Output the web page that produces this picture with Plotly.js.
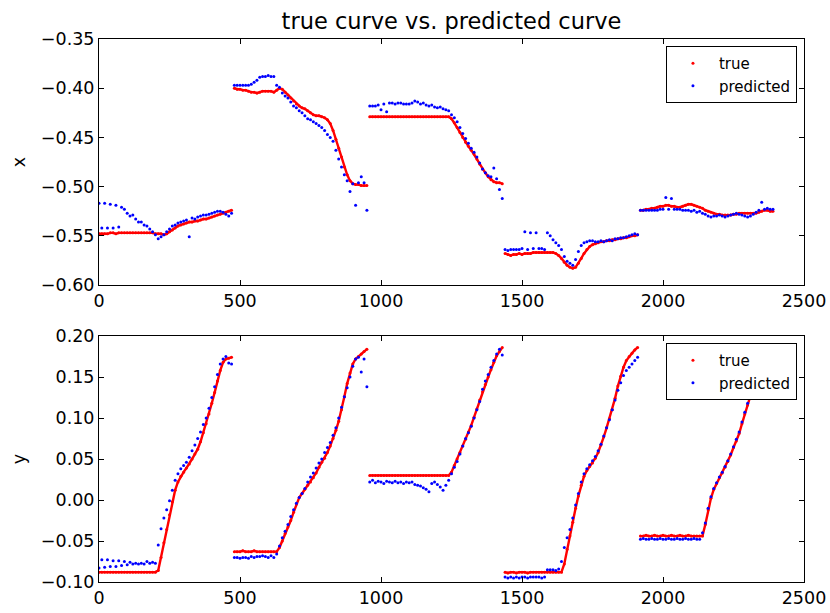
<!DOCTYPE html>
<html>
<head>
<meta charset="utf-8">
<script src="https://cdn.plot.ly/plotly-3.0.1.min.js"></script>
<style>html,body{margin:0;padding:0;background:#fff;}#chart{width:830px;height:613px;}</style>
</head>
<body>
<div id="chart"></div>
<script>
// sample spacing of the values below (index units) and points per segment
const sampleStep = 10;
const segmentLength = 48;

// x component (top panel)
const xTrue = [
 -0.548,-0.548,-0.548,-0.548,-0.547,-0.547,-0.548,-0.547,-0.547,-0.547,-0.547,-0.547,-0.547,-0.547,-0.547,-0.547,-0.547,-0.547,-0.547,-0.547,-0.548,-0.548,-0.548,-0.549,-0.548,-0.546,-0.544,-0.542,-0.540,-0.539,-0.538,-0.537,-0.536,-0.536,-0.535,-0.535,-0.534,-0.533,-0.533,-0.532,-0.531,-0.530,-0.529,-0.528,-0.527,-0.526,-0.525,-0.524,
 -0.400,-0.401,-0.401,-0.402,-0.402,-0.403,-0.404,-0.404,-0.405,-0.404,-0.403,-0.403,-0.403,-0.403,-0.404,-0.402,-0.400,-0.401,-0.404,-0.407,-0.410,-0.413,-0.416,-0.418,-0.420,-0.421,-0.423,-0.425,-0.427,-0.428,-0.428,-0.429,-0.430,-0.432,-0.436,-0.443,-0.452,-0.461,-0.470,-0.480,-0.488,-0.494,-0.497,-0.498,-0.498,-0.499,-0.499,-0.499,
 -0.429,-0.429,-0.429,-0.429,-0.429,-0.429,-0.429,-0.429,-0.429,-0.429,-0.429,-0.429,-0.429,-0.429,-0.429,-0.429,-0.429,-0.429,-0.429,-0.429,-0.429,-0.429,-0.429,-0.429,-0.429,-0.429,-0.429,-0.429,-0.429,-0.431,-0.435,-0.440,-0.445,-0.450,-0.455,-0.459,-0.463,-0.467,-0.472,-0.477,-0.482,-0.486,-0.490,-0.493,-0.495,-0.496,-0.496,-0.497,
 -0.568,-0.569,-0.570,-0.569,-0.569,-0.568,-0.569,-0.568,-0.568,-0.568,-0.567,-0.567,-0.567,-0.567,-0.567,-0.567,-0.567,-0.567,-0.568,-0.570,-0.573,-0.577,-0.580,-0.582,-0.583,-0.582,-0.578,-0.573,-0.568,-0.564,-0.561,-0.559,-0.558,-0.557,-0.556,-0.556,-0.555,-0.555,-0.554,-0.554,-0.553,-0.553,-0.552,-0.552,-0.551,-0.550,-0.550,-0.549,
 -0.524,-0.524,-0.523,-0.523,-0.522,-0.522,-0.521,-0.520,-0.520,-0.519,-0.519,-0.520,-0.520,-0.521,-0.521,-0.520,-0.519,-0.518,-0.518,-0.519,-0.520,-0.521,-0.522,-0.524,-0.525,-0.526,-0.527,-0.528,-0.528,-0.529,-0.529,-0.529,-0.529,-0.528,-0.528,-0.527,-0.527,-0.527,-0.527,-0.527,-0.527,-0.527,-0.526,-0.525,-0.524,-0.524,-0.525,-0.525
];
const xPredicted = [
 -0.517,-0.542,-0.517,-0.542,-0.518,-0.542,-0.519,-0.541,-0.521,-0.523,-0.527,-0.530,-0.529,-0.533,-0.536,-0.536,-0.539,-0.540,-0.543,-0.546,-0.549,-0.553,-0.551,-0.549,-0.546,-0.543,-0.540,-0.539,-0.537,-0.536,-0.535,-0.534,-0.551,-0.532,-0.533,-0.531,-0.530,-0.529,-0.529,-0.528,-0.527,-0.526,-0.525,-0.525,-0.526,-0.528,-0.530,-0.527,
 -0.397,-0.397,-0.397,-0.397,-0.397,-0.397,-0.396,-0.394,-0.392,-0.389,-0.388,-0.388,-0.387,-0.388,-0.388,-0.397,-0.399,-0.405,-0.408,-0.410,-0.414,-0.418,-0.420,-0.423,-0.425,-0.428,-0.431,-0.432,-0.434,-0.436,-0.438,-0.440,-0.443,-0.447,-0.450,-0.454,-0.463,-0.472,-0.480,-0.488,-0.494,-0.505,-0.497,-0.519,-0.496,-0.490,-0.496,-0.524,
 -0.418,-0.418,-0.418,-0.417,-0.422,-0.416,-0.424,-0.415,-0.415,-0.416,-0.415,-0.415,-0.416,-0.416,-0.416,-0.415,-0.413,-0.414,-0.416,-0.415,-0.417,-0.418,-0.417,-0.419,-0.420,-0.419,-0.421,-0.422,-0.423,-0.427,-0.430,-0.434,-0.440,-0.446,-0.451,-0.456,-0.461,-0.465,-0.470,-0.476,-0.482,-0.486,-0.489,-0.490,-0.481,-0.492,-0.503,-0.512,
 -0.564,-0.565,-0.564,-0.564,-0.564,-0.564,-0.563,-0.546,-0.564,-0.547,-0.563,-0.547,-0.563,-0.563,-0.564,-0.547,-0.550,-0.554,-0.557,-0.560,-0.564,-0.571,-0.576,-0.578,-0.580,-0.574,-0.566,-0.560,-0.557,-0.556,-0.555,-0.555,-0.556,-0.556,-0.555,-0.556,-0.555,-0.554,-0.555,-0.553,-0.553,-0.552,-0.552,-0.551,-0.550,-0.549,-0.548,-0.549,
 -0.524,-0.524,-0.524,-0.524,-0.524,-0.524,-0.524,-0.523,-0.523,-0.511,-0.523,-0.512,-0.523,-0.523,-0.523,-0.524,-0.524,-0.524,-0.525,-0.524,-0.526,-0.525,-0.527,-0.528,-0.530,-0.531,-0.530,-0.530,-0.529,-0.530,-0.531,-0.530,-0.529,-0.528,-0.527,-0.528,-0.529,-0.530,-0.531,-0.530,-0.528,-0.526,-0.524,-0.516,-0.523,-0.522,-0.523,-0.523
];

// y component (bottom panel)
const yTrue = [
 -0.088,-0.088,-0.088,-0.088,-0.088,-0.088,-0.088,-0.088,-0.088,-0.088,-0.088,-0.088,-0.088,-0.088,-0.088,-0.088,-0.088,-0.088,-0.088,-0.088,-0.088,-0.086,-0.070,-0.052,-0.036,-0.018,-0.002,0.012,0.022,0.029,0.034,0.039,0.044,0.050,0.056,0.062,0.071,0.082,0.093,0.105,0.118,0.131,0.145,0.158,0.168,0.172,0.173,0.174,
 -0.063,-0.063,-0.063,-0.062,-0.063,-0.063,-0.063,-0.062,-0.063,-0.063,-0.063,-0.063,-0.063,-0.063,-0.063,-0.063,-0.058,-0.050,-0.041,-0.033,-0.025,-0.015,-0.005,0.003,0.008,0.013,0.018,0.022,0.027,0.033,0.040,0.046,0.051,0.058,0.066,0.075,0.085,0.096,0.110,0.126,0.142,0.155,0.166,0.172,0.175,0.178,0.181,0.184,
 0.030,0.030,0.030,0.030,0.030,0.030,0.030,0.030,0.030,0.030,0.030,0.030,0.030,0.030,0.030,0.030,0.030,0.030,0.030,0.030,0.030,0.030,0.030,0.030,0.030,0.030,0.030,0.030,0.030,0.034,0.042,0.050,0.058,0.066,0.074,0.083,0.091,0.101,0.111,0.122,0.132,0.141,0.150,0.159,0.168,0.176,0.181,0.186,
 -0.088,-0.089,-0.088,-0.088,-0.089,-0.088,-0.088,-0.088,-0.089,-0.088,-0.088,-0.088,-0.088,-0.088,-0.088,-0.088,-0.088,-0.088,-0.088,-0.088,-0.088,-0.078,-0.060,-0.044,-0.027,-0.010,0.005,0.018,0.029,0.036,0.041,0.045,0.051,0.058,0.067,0.077,0.088,0.099,0.110,0.124,0.139,0.151,0.162,0.170,0.175,0.179,0.183,0.186,
 -0.044,-0.044,-0.043,-0.044,-0.044,-0.043,-0.044,-0.044,-0.043,-0.044,-0.044,-0.043,-0.044,-0.044,-0.043,-0.044,-0.044,-0.043,-0.044,-0.044,-0.044,-0.044,-0.044,-0.030,-0.012,0.002,0.013,0.020,0.027,0.033,0.040,0.047,0.055,0.064,0.072,0.081,0.093,0.105,0.116,0.127,0.136,0.146,0.155,0.163,0.170,0.176,0.181,0.185
];
const yPredicted = [
 -0.083,-0.073,-0.082,-0.073,-0.081,-0.074,-0.081,-0.074,-0.080,-0.075,-0.079,-0.076,-0.078,-0.077,-0.078,-0.077,-0.078,-0.075,-0.077,-0.076,-0.077,-0.055,-0.035,-0.022,-0.012,-0.001,0.012,0.024,0.032,0.038,0.042,0.046,0.052,0.060,0.067,0.075,0.083,0.092,0.100,0.112,0.125,0.138,0.153,0.166,0.172,0.175,0.167,0.166,
 -0.070,-0.070,-0.071,-0.070,-0.070,-0.071,-0.069,-0.070,-0.069,-0.069,-0.068,-0.069,-0.070,-0.068,-0.070,-0.066,-0.056,-0.046,-0.038,-0.030,-0.020,-0.012,-0.004,0.003,0.008,0.014,0.022,0.028,0.033,0.039,0.045,0.050,0.058,0.064,0.070,0.079,0.088,0.100,0.113,0.126,0.137,0.150,0.163,0.172,0.174,0.156,0.172,0.138,
 0.022,0.024,0.021,0.023,0.022,0.020,0.023,0.022,0.021,0.023,0.021,0.022,0.020,0.022,0.021,0.022,0.019,0.018,0.017,0.015,0.013,0.010,0.020,0.022,0.019,0.016,0.012,0.018,0.024,0.032,0.040,0.047,0.056,0.066,0.075,0.082,0.090,0.100,0.110,0.120,0.135,0.145,0.153,0.162,0.170,0.178,0.184,0.177,
 -0.094,-0.095,-0.094,-0.095,-0.094,-0.095,-0.094,-0.094,-0.095,-0.094,-0.094,-0.094,-0.094,-0.095,-0.094,-0.085,-0.085,-0.085,-0.086,-0.084,-0.075,-0.058,-0.046,-0.036,-0.022,-0.006,0.008,0.022,0.032,0.038,0.043,0.048,0.053,0.060,0.068,0.078,0.088,0.098,0.110,0.122,0.134,0.143,0.152,0.158,0.162,0.166,0.170,0.174,
 -0.048,-0.047,-0.048,-0.048,-0.047,-0.048,-0.048,-0.047,-0.048,-0.048,-0.047,-0.048,-0.048,-0.047,-0.048,-0.048,-0.047,-0.048,-0.048,-0.047,-0.048,-0.048,-0.040,-0.028,-0.010,0.004,0.014,0.021,0.028,0.034,0.041,0.048,0.056,0.065,0.074,0.083,0.095,0.107,0.118,0.128,0.137,0.146,0.154,0.162,0.168,0.173,0.177,0.180
];

const xTickVals = [0, 500, 1000, 1500, 2000, 2500];
const chartTitle = 'true curve vs. predicted curve';

const sampleIdx = xTrue.map((_, i) => i * sampleStep);

// line version of a series, broken between recording segments
function brokenLine(vals) {
  const xs = [], ys = [];
  vals.forEach((v, i) => {
    if (i > 0 && i % segmentLength === 0) { xs.push(null); ys.push(null); }
    xs.push(sampleIdx[i]); ys.push(v);
  });
  return {xs, ys};
}

const RED = '#ff0000', BLUE = '#0000ff';
const FONT = 'DejaVu Sans, sans-serif';

function panelTraces(trueVals, predVals, xa, ya, legendId) {
  const ln = brokenLine(trueVals);
  return [
    {x: ln.xs, y: ln.ys, xaxis: xa, yaxis: ya, mode: 'lines', line: {color: RED, width: 2.4},
     showlegend: false, hoverinfo: 'skip'},
    {x: sampleIdx, y: trueVals, xaxis: xa, yaxis: ya, mode: 'markers', name: 'true',
     marker: {color: RED, size: 3}, legend: legendId},
    {x: sampleIdx, y: predVals, xaxis: xa, yaxis: ya, mode: 'markers', name: 'predicted',
     marker: {color: BLUE, size: 3}, legend: legendId}
  ];
}

const data = [
  ...panelTraces(xTrue, xPredicted, 'x', 'y', 'legend'),
  ...panelTraces(yTrue, yPredicted, 'x2', 'y2', 'legend2')
];

const axisCommon = {
  showline: true, linecolor: '#000', linewidth: 1, mirror: 'ticks',
  ticks: 'inside', ticklen: 5, tickcolor: '#000', tickwidth: 1,
  showgrid: false, zeroline: false,
  tickfont: {family: FONT, size: 17.5, color: '#000'}
};

const legendCommon = {
  xref: 'paper', yref: 'paper', x: 0.99, xanchor: 'right', yanchor: 'top',
  bgcolor: '#fff', bordercolor: '#000', borderwidth: 1, itemwidth: 42,
  font: {family: FONT, size: 15, color: '#000'}
};

const layout = {
  width: 830, height: 613,
  margin: {l: 99, r: 26, t: 39, b: 31},
  paper_bgcolor: '#fff', plot_bgcolor: '#fff',
  title: {text: chartTitle, font: {family: FONT, size: 22.5, color: '#000'},
          x: 0.5, xref: 'paper', y: 0.966, yref: 'container', yanchor: 'middle'},
  xaxis: Object.assign({}, axisCommon, {range: [0, 2500], tickvals: xTickVals, anchor: 'y', domain: [0, 1]}),
  yaxis: Object.assign({}, axisCommon, {range: [-0.60, -0.35], dtick: 0.05, tickformat: '.2f', domain: [0.547, 1],
          anchor: 'x', title: {text: 'x', font: {family: FONT, size: 17.5, color: '#000'}, standoff: 10}}),
  xaxis2: Object.assign({}, axisCommon, {range: [0, 2500], tickvals: xTickVals, anchor: 'y2', domain: [0, 1]}),
  yaxis2: Object.assign({}, axisCommon, {range: [-0.10, 0.20], dtick: 0.05, tickformat: '.2f', domain: [0, 0.453],
          anchor: 'x2', title: {text: 'y', font: {family: FONT, size: 17.5, color: '#000'}, standoff: 10}}),
  legend: Object.assign({}, legendCommon, {y: 0.987}),
  legend2: Object.assign({}, legendCommon, {y: 0.440}),
  showlegend: true
};

Plotly.newPlot('chart', data, layout, {displayModeBar: false, staticPlot: true});
</script>
</body>
</html>
